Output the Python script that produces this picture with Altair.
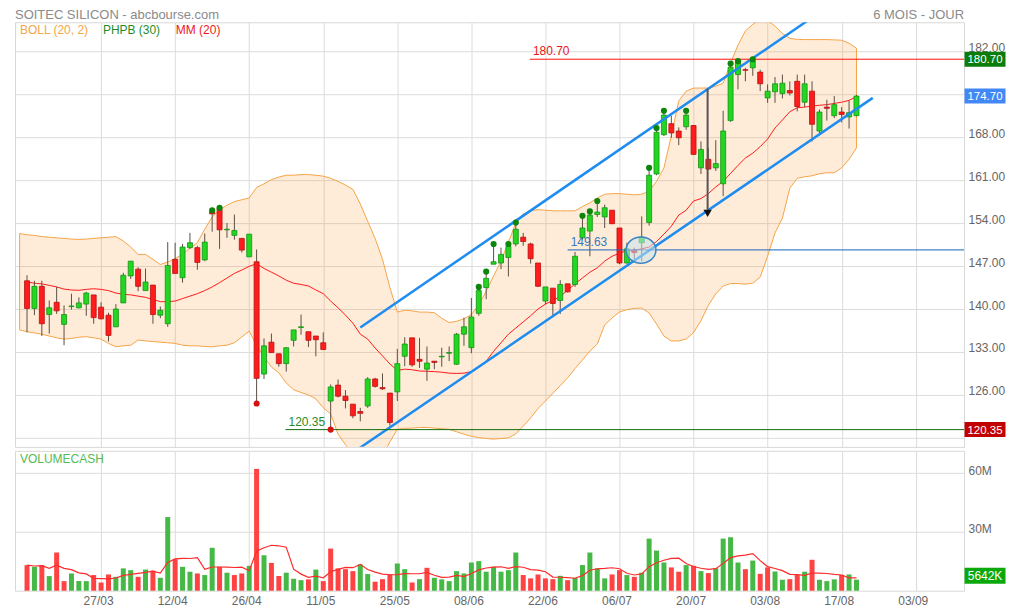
import altair as alt
import pandas as pd

W = 950
HP = 425
HV = 140
FONT = "Liberation Sans"
GRID = "#dcdcdc"

# ---------------- data ----------------
opens = [144.6,140.1,143.7,139.1,141.1,137.5,140.4,140.2,140.8,142.3,
         140.3,139.0,137.1,141.0,145.4,146.5,143.0,143.9,139.0,137.6,
         148.1,145.1,150.0,150.0,148.0,156.0,156.4,152.9,152.0,151.5,
         148.5,147.7,129.4,134.6,132.7,131.1,134.9,137.0,136.3,135.6,
         134.5,125.0,127.6,125.8,124.5,123.3,124.2,128.6,127.2,126.3,
         126.5,132.3,135.3,131.8,130.2,131.5,132.2,132.8,131.0,135.9,
         133.7,139.3,143.5,147.3,147.5,148.4,150.6,151.7,150.6,147.5,
         141.3,143.4,141.4,144.1,144.0,151.6,152.7,155.4,155.0,156.1,
         153.2,147.5,149.6,150.8,154.1,162.0,168.4,170.2,169.0,169.7,
         169.9,163.0,164.4,163.0,160.4,170.7,178.2,179.0,179.3,178.6,
         174.4,175.4,175.1,175.6,177.1,173.7,175.5,169.0,172.9,171.5,
         172.1,171.3,171.5]
highs = [145.5,144.6,144.6,141.4,143.6,140.6,142.5,141.9,142.8,142.3,
         141.1,139.4,140.8,145.9,147.8,146.8,146.6,143.9,140.4,150.9,
         150.8,150.6,152.4,150.3,152.3,156.1,156.5,154.0,155.4,151.6,
         152.2,149.7,135.2,136.0,132.7,133.7,136.6,139.1,136.3,135.6,
         136.2,127.7,128.5,126.8,124.5,123.9,128.9,128.8,129.5,126.3,
         133.5,135.4,135.3,135.3,133.9,131.5,133.7,133.9,136.1,138.6,
         141.8,143.6,146.1,150.6,150.0,150.6,154.1,152.4,150.8,147.5,
         143.6,143.4,144.7,144.1,149.3,155.2,155.9,157.6,157.0,156.1,
         153.2,150.8,150.0,155.1,163.0,169.5,172.3,171.5,169.6,172.3,
         170.0,167.3,166.2,167.5,172.3,180.0,180.4,179.3,180.7,179.0,
         176.6,177.8,178.2,177.1,178.2,178.2,177.1,172.5,174.1,174.7,
         172.9,173.9,174.9]
lows = [136.2,139.0,135.6,136.0,139.2,134.1,139.9,140.1,138.9,137.6,
        138.3,134.7,137.1,141.0,144.9,142.9,143.0,137.6,138.5,137.1,
        145.8,144.3,149.8,146.4,147.8,152.6,149.8,151.6,151.3,149.2,
        148.5,124.6,128.6,132.9,130.6,129.8,133.9,135.8,133.8,132.3,
        133.4,120.35,125.6,123.8,122.2,121.7,123.9,127.2,126.8,121.0,
        125.0,130.7,130.6,130.4,128.3,130.2,130.6,131.5,130.9,134.0,
        132.8,138.9,141.6,147.3,146.5,145.3,150.2,150.3,147.4,143.6,
        140.8,139.0,139.2,142.7,143.6,151.3,148.6,155.0,153.2,153.9,
        147.3,147.4,147.8,147.8,153.6,161.8,168.2,167.9,166.7,169.2,
        165.1,162.0,162.7,162.5,158.4,170.5,175.8,177.1,178.0,175.5,
        173.6,173.6,174.3,174.8,172.2,172.9,167.3,168.7,170.7,171.1,
        170.4,169.4,171.4]
closes = [140.1,143.7,137.6,140.2,139.7,139.1,140.5,141.0,142.6,138.6,
          138.4,135.7,140.0,145.5,147.8,143.7,144.4,139.1,139.8,147.1,
          145.8,150.1,150.8,147.6,150.9,155.5,152.9,153.0,152.8,149.6,
          152.2,128.7,134.0,132.9,131.1,133.7,136.6,137.1,134.9,135.0,
          133.4,127.3,125.8,125.1,122.6,123.0,128.6,127.4,127.0,121.5,
          131.1,134.3,130.9,131.5,131.2,131.3,132.3,132.9,135.9,137.1,
          138.7,143.0,145.0,147.7,148.9,150.2,153.0,151.0,148.2,143.7,
          143.6,140.9,144.0,142.8,148.6,153.2,155.3,155.8,156.5,153.9,
          147.5,149.8,149.2,151.7,161.8,168.8,171.6,168.7,167.9,171.6,
          165.2,166.0,162.8,163.7,169.0,179.4,180.2,178.9,180.4,176.7,
          175.5,176.7,176.8,175.2,173.0,176.7,170.1,172.1,172.7,173.3,
          171.7,172.0,174.7]
volumes_m = [13.05,12.2,13.05,7.46,19.5,4.9,8.8,4.9,4.9,8.0,
             4.2,8.3,7.1,11.4,10.5,7.1,10.8,10.2,6.6,37.6,
             16.1,12.2,9.7,8.8,8.0,21.9,12.2,9.2,8.0,8.8,
             12.7,62.2,18.1,14.2,7.5,9.2,6.1,5.4,5.8,10.8,
             4.9,21.5,11.4,11.0,10.0,13.4,8.5,4.6,5.9,8.3,
             13.9,11.0,4.2,5.9,11.7,6.6,5.8,4.9,10.0,8.8,
             14.4,15.1,9.7,12.2,9.7,10.5,19.5,8.0,6.3,8.3,
             6.3,5.9,7.6,5.4,6.6,13.1,19.5,11.4,6.3,8.3,
             10.5,8.0,7.1,9.2,26.6,20.5,14.4,11.9,9.7,13.1,
             12.7,10.0,9.0,11.5,26.6,27.3,14.4,11.0,15.4,8.6,
             11.9,9.8,5.6,5.9,8.0,9.7,15.8,5.6,4.9,5.8,
             8.1,8.3,5.642]
mm20 = [144.4,144.2,144.1,143.85,143.6,143.25,143.1,143.05,143.2,143.3,
        143.2,143.0,142.6,142.4,142.3,142.1,141.9,141.55,141.2,141.2,
        141.3,141.7,142.1,142.5,143.0,143.6,144.3,145.05,145.8,146.35,
        146.95,147.4,146.6,146.0,145.4,144.7,144.2,144.0,143.75,143.1,
        142.5,141.3,140.2,139.0,137.7,135.9,135.1,133.65,132.35,131.05,
        130.0,130.2,130.1,129.9,129.85,129.8,129.7,129.55,129.5,129.55,
        129.8,130.55,131.5,133.1,134.5,135.9,136.9,137.9,138.9,140.0,
        140.8,141.4,142.0,143.1,144.1,145.05,146.0,146.7,147.8,148.6,
        149.1,149.5,149.6,149.8,150.1,151.0,152.2,153.5,155.3,156.1,
        157.6,158.0,158.8,159.9,160.8,162.1,163.4,164.6,165.4,166.45,
        167.7,169.5,170.8,172.15,172.8,172.9,173.05,173.2,173.3,173.5,
        173.7,174.0,174.6]
# Bollinger band, first value is the session before the first candle
band_idx = list(range(-1, 113))
boll_upper = [152.3,
              152.1,152.0,151.8,151.7,151.6,151.5,151.4,151.35,151.4,151.5,
              151.6,151.7,151.8,151.1,150.1,148.9,148.9,148.1,147.25,147.65,
              148.2,148.95,149.9,150.8,153.0,155.0,156.2,156.9,157.5,157.8,
              158.1,159.8,160.4,161.1,161.5,161.8,161.8,161.9,161.9,161.8,
              161.65,161.3,160.8,160.2,159.5,157.1,154.3,151.5,148.1,143.5,
              139.5,139.8,139.7,139.5,139.5,139.4,138.5,137.8,138.0,138.4,
              139.1,140.65,142.9,145.4,147.8,150.9,154.0,155.5,156.0,156.2,
              156.1,156.0,156.0,156.0,156.0,156.7,157.3,158.1,158.7,158.8,
              158.8,158.7,158.6,158.7,159.2,160.8,163.0,168.2,173.9,175.5,
              176.0,176.0,176.0,176.3,176.8,180.05,183.0,185.3,186.4,187.2,
              187.0,186.1,184.9,184.1,183.95,183.9,183.9,183.9,183.9,183.85,
              183.8,183.3,182.5]
boll_lower = [136.6,
              136.3,136.1,135.9,135.6,135.3,135.1,135.2,135.4,135.5,135.3,
              135.1,134.4,133.85,134.0,134.1,134.95,134.8,134.7,134.6,134.5,
              134.4,134.1,134.0,134.0,133.9,133.85,134.0,134.1,134.5,135.45,
              136.4,134.05,132.2,130.55,129.6,127.95,126.85,126.4,126.0,125.35,
              123.9,122.9,119.6,117.9,116.1,114.9,114.3,114.4,116.1,118.35,
              120.4,120.55,120.6,120.7,120.7,120.6,120.5,120.4,120.0,119.6,
              119.25,119.05,118.9,118.8,118.9,119.0,119.65,120.9,122.25,123.8,
              125.0,126.25,127.5,128.8,130.3,131.7,133.15,134.3,137.4,138.55,
              139.5,139.9,140.1,140.15,139.35,137.55,135.6,134.8,134.8,135.1,
              136.15,138.1,140.6,142.45,143.75,144.15,144.15,144.05,144.2,145.2,
              148.6,152.4,154.8,159.7,161.3,161.55,161.7,162.05,162.2,162.2,
              163.0,164.4,166.25]
phpb_high_idx = [25, 26, 61, 62, 63, 65, 66, 75, 76, 77, 84, 85, 86, 89, 95, 96, 98]
phpb_low_idx = [31, 41]

tick_idx = [10, 20, 30, 40, 50, 60, 70, 80, 90, 100, 110, 120]
tick_labels = ["27/03", "12/04", "26/04", "11/05", "25/05", "08/06",
               "22/06", "06/07", "20/07", "03/08", "17/08", "03/09"]
price_ticks = [119, 126, 133, 140, 147, 154, 161, 168, 175, 182]
volume_ticks = [30e6, 60e6]

trend_upper_idx = [45.0, 106.5]
trend_upper_price = [137.0, 187.9]
trend_lower_idx = [44.0, 114.2]
trend_lower_price = [116.6, 174.4]

level_prices = [180.70, 149.63, 120.35]
level_start = [67.9, 73.0, 34.9]
level_labels = ["180.70", "149.63", "120.35"]
level_line_colors = ["#ff1010", "#1565c0", "#0f6f0f"]
level_text_colors = ["#e81818", "#3a78c2", "#2a8a2a"]

tag_prices = [180.70, 174.70, 120.35]
tag_labels = ["180.70", "174.70", "120.35"]
tag_colors = ["#0a7d0a", "#4287f5", "#c20000"]

arrow_idx = [91.9]
arrow_top = [175.9]
arrow_bottom = [156.2]
arrow_tip = [155.6]

circle_idx = [82.9]
circle_price = [149.6]

last_volume_label = "5642K"

# ---------------- frames ----------------
n = len(closes)
candles = pd.DataFrame({
    "idx": list(range(n)), "open": opens, "high": highs, "low": lows,
    "close": closes, "mm": mm20, "vol": [v * 1e6 for v in volumes_m],
})
candles["fill"] = ["#22d622" if c >= o else "#ff1c1c" for o, c in zip(opens, closes)]
candles["edge"] = ["#139313" if c >= o else "#b81010" for o, c in zip(opens, closes)]
vcol = []
for i in range(n):
    up = closes[i] >= closes[i - 1] if i > 0 else closes[0] >= opens[0]
    vcol.append("#45b845" if up else "#ff4343")
candles["vcol"] = vcol

band = pd.DataFrame({"idx": band_idx, "upper": boll_upper, "lower": boll_lower})
trend = pd.DataFrame({
    "line": ["up", "up", "low", "low"],
    "idx": trend_upper_idx + trend_lower_idx,
    "price": trend_upper_price + trend_lower_price,
})
levels = pd.DataFrame({"start": level_start, "price": level_prices, "label": level_labels,
                       "lc": level_line_colors, "tc": level_text_colors})
dots = pd.DataFrame({
    "idx": phpb_high_idx + phpb_low_idx,
    "price": [highs[i] for i in phpb_high_idx] + [lows[i] for i in phpb_low_idx],
    "col": ["#0c850c"] * len(phpb_high_idx) + ["#d81010"] * len(phpb_low_idx),
})
tags = pd.DataFrame({"price": tag_prices, "label": tag_labels, "col": tag_colors})
arrow = pd.DataFrame({"idx": arrow_idx, "top": arrow_top, "bottom": arrow_bottom, "tip": arrow_tip})
circ = pd.DataFrame({"idx": circle_idx, "price": circle_price})

xs = alt.Scale(domain=[-0.95, 125.85], nice=False, zero=False)
ys = alt.Scale(domain=[117.54, 186.72], nice=False, zero=False)
vs = alt.Scale(domain=[0, 71.4e6], nice=False, zero=False)

# labels hidden behind the right-hand price tags (119 and 175) are left blank
xaxis_p = alt.Axis(values=tick_idx, grid=True, labels=False, ticks=False, domain=False,
                   title=None, gridColor=GRID, zindex=0)
yaxis_p = alt.Axis(orient="right", values=price_ticks,
                   labelExpr="(datum.value < 120 || datum.value == 175) ? '' : format(datum.value, '.2f')",
                   grid=True, gridColor=GRID, ticks=False, domain=False, title=None,
                   labelColor="#666666", labelFontSize=12, labelFont=FONT,
                   labelPadding=4, labelOffset=-4, zindex=0)

label_expr = "[" + ",".join(f"'{t}'" for t in tick_labels) + "][round(datum.value / 10) - 1]"
xaxis_v = alt.Axis(values=tick_idx, labelExpr=label_expr, grid=True, gridColor=GRID,
                   ticks=False, domain=False, title=None, labelColor="#666666",
                   labelFontSize=12, labelFont=FONT, labelPadding=5, labelOffset=-3, zindex=0)
yaxis_v = alt.Axis(orient="right", values=volume_ticks,
                   labelExpr="format(datum.value / 1000000, 'd') + 'M'",
                   grid=True, gridColor=GRID, ticks=False, domain=False, title=None,
                   labelColor="#666666", labelFontSize=12, labelFont=FONT,
                   labelPadding=4, labelOffset=-3, zindex=0)


def px(field="idx"):
    return alt.X(f"{field}:Q", scale=xs, axis=xaxis_p)


def py(field):
    return alt.Y(f"{field}:Q", scale=ys, axis=yaxis_p)


def vx(field="idx"):
    return alt.X(f"{field}:Q", scale=xs, axis=xaxis_v)


def vy(field):
    return alt.Y(f"{field}:Q", scale=vs, axis=yaxis_v)


ELLIPSE = "M-1,0A1,0.87,0,1,0,1,0A1,0.87,0,1,0,-1,0Z"


def one(label):
    return alt.Chart(pd.DataFrame({"t": [label]}))


band_layer = alt.Chart(band).mark_area(
    clip=True, fill="#ffa13a", fillOpacity=0.2, stroke="#f6a447", strokeWidth=1
).encode(x=px(), y=py("upper"), y2="lower:Q")

mm_layer = alt.Chart(candles).mark_line(clip=True, color="#ff1a1a", strokeWidth=1).encode(
    x=px(), y=py("mm"))

wick_layer = alt.Chart(candles).mark_rule(clip=True, color="#5b4f45", strokeWidth=1).encode(
    x=px(), y=py("low"), y2="high:Q")

body_layer = alt.Chart(candles).mark_bar(clip=True, width=5, strokeWidth=0.8).encode(
    x=px(), y=py("open"), y2="close:Q",
    fill=alt.Fill("fill:N", scale=None), stroke=alt.Stroke("edge:N", scale=None))

trend_layer = alt.Chart(trend).mark_line(clip=True, color="#1e8cf0", strokeWidth=2.5).encode(
    x=px(), y=py("price"), detail="line:N")

level_layer = alt.Chart(levels).mark_rule(clip=True, strokeWidth=1).encode(
    x=px("start"), x2=alt.value(W), y=py("price"), color=alt.Color("lc:N", scale=None))

level_text = alt.Chart(levels).mark_text(align="left", baseline="bottom", dx=3, dy=-1,
                                          fontSize=12, font=FONT).encode(
    x=px("start"), y=py("price"), text="label:N", color=alt.Color("tc:N", scale=None))

dot_layer = alt.Chart(dots).mark_circle(size=38, opacity=1, clip=True).encode(
    x=px(), y=py("price"), color=alt.Color("col:N", scale=None))

arrow_line = alt.Chart(arrow).mark_rule(color="#555555", strokeWidth=2, clip=True).encode(
    x=px(), y=py("top"), y2="bottom:Q")
arrow_head = alt.Chart(arrow).mark_point(shape="triangle-down", size=70, filled=True, clip=True,
                                         color="#111111", opacity=1).encode(x=px(), y=py("tip"))

circle_layer = alt.Chart(circ).mark_point(shape=ELLIPSE, size=900, filled=True, clip=True,
                                          fill="#c4e2ee", fillOpacity=0.55,
                                          stroke="#3d86c4", strokeWidth=1.5, opacity=1).encode(
    x=px(), y=py("price"))

title_l = one("SOITEC SILICON - abcbourse.com").mark_text(
    align="left", baseline="top", fontSize=13, font=FONT, color="#8a8a8a").encode(
    x=alt.value(0), y=alt.value(-13), text="t:N")
title_r = one("6 MOIS - JOUR").mark_text(
    align="right", baseline="top", fontSize=13, font=FONT, color="#8a8a8a").encode(
    x=alt.value(W), y=alt.value(-13), text="t:N")
leg1 = one("BOLL (20, 2)").mark_text(align="left", baseline="middle", fontSize=12, font=FONT,
                                     color="#f5a54a").encode(x=alt.value(5), y=alt.value(8), text="t:N")
leg2 = one("PHPB (30)").mark_text(align="left", baseline="middle", fontSize=12, font=FONT,
                                  color="#1f8c1f").encode(x=alt.value(88), y=alt.value(8), text="t:N")
leg3 = one("MM (20)").mark_text(align="left", baseline="middle", fontSize=12, font=FONT,
                                color="#ee1c1c").encode(x=alt.value(161), y=alt.value(8), text="t:N")

tag_box = alt.Chart(tags).mark_tick(orient="horizontal", size=41, thickness=15, opacity=1,
                                    clip=False).encode(
    x=alt.value(W + 21), y=py("price"), color=alt.Color("col:N", scale=None))
tag_text = alt.Chart(tags).mark_text(color="white", fontSize=11.5, font=FONT, align="center",
                                     baseline="middle", dy=1).encode(
    x=alt.value(W + 21), y=py("price"), text="label:N")

price = alt.layer(
    band_layer, mm_layer, wick_layer, body_layer, trend_layer, level_layer, level_text,
    dot_layer, arrow_line, arrow_head, circle_layer,
    title_l, title_r, leg1, leg2, leg3, tag_box, tag_text,
).properties(width=W, height=HP)

vol_bars = alt.Chart(candles).mark_bar(width=5).encode(
    x=vx(), y=vy("vol"), color=alt.Color("vcol:N", scale=None))
vol_ma = alt.Chart(candles).transform_window(
    vma="mean(vol)", frame=[-4, 0], sort=[alt.SortField("idx", order="ascending")]
).mark_line(color="#ff2b2b", strokeWidth=1.2).encode(x=vx(), y=vy("vma"))
vol_title = one("VOLUMECASH").mark_text(align="left", baseline="middle", fontSize=12, font=FONT,
                                        color="#55bb55").encode(x=alt.value(5), y=alt.value(8), text="t:N")
last_vol = pd.DataFrame({"vol": [volumes_m[-1] * 1e6], "label": [last_volume_label]})
vtag_box = alt.Chart(last_vol).mark_tick(orient="horizontal", size=41, thickness=16, opacity=1,
                                         clip=False, yOffset=-4, color="#0aa80a").encode(
    x=alt.value(W + 21), y=vy("vol"))
vtag_text = alt.Chart(last_vol).mark_text(color="white", fontSize=12, font=FONT, align="center",
                                          baseline="middle", dy=-4).encode(
    x=alt.value(W + 21), y=vy("vol"), text="label:N")

volume = alt.layer(vol_bars, vol_ma, vol_title, vtag_box, vtag_text).properties(width=W, height=HV)

chart = alt.vconcat(price, volume, spacing=2).resolve_scale(
    x="independent", y="independent"
).properties(
    padding={"left": 6, "top": 0, "right": 0, "bottom": 0}
).configure_view(stroke="#d8d8d8")

chart.save("out.html", embed_options={"renderer": "svg", "actions": False})
